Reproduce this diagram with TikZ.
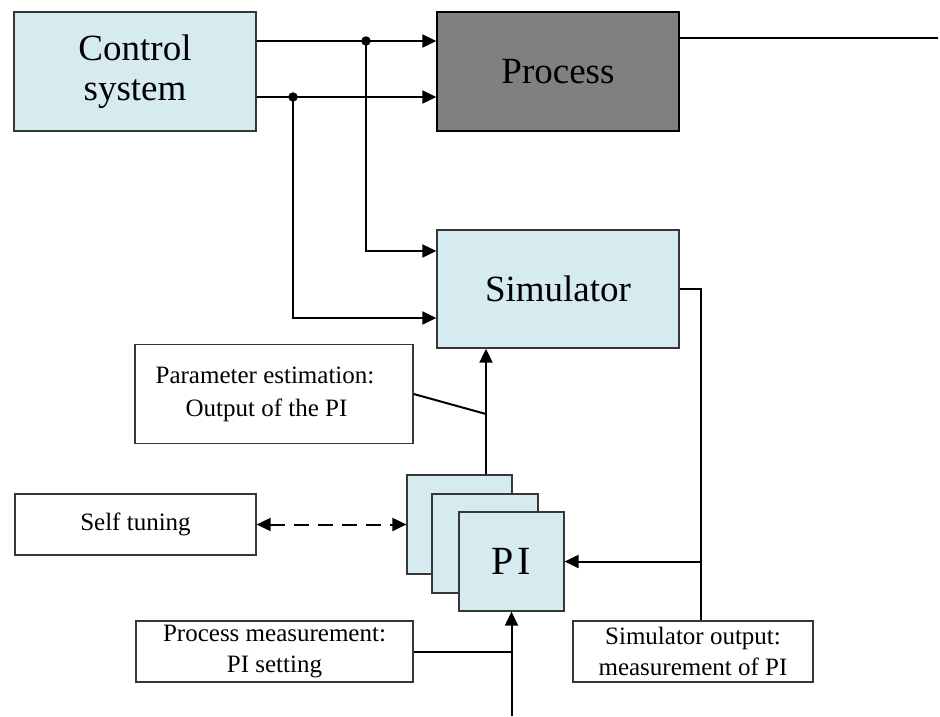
\documentclass[tikz,border=0pt]{standalone}
\usepackage{fontspec}
\setmainfont{Liberation Serif}
\usetikzlibrary{arrows.meta}
\definecolor{boxblue}{RGB}{213,235,240}
\definecolor{procgray}{RGB}{128,128,128}
\definecolor{edgegray}{RGB}{55,55,55}

\begin{document}
\begin{tikzpicture}[x=1pt,y=-1pt,
  blk/.style={draw=edgegray, line width=1.3pt, inner sep=0pt, align=center},
  big/.style={font=\fontsize{37}{40}\selectfont},
  small/.style={font=\fontsize{25}{31}\selectfont},
  wire/.style={line width=2pt, draw=black},
  tip/.style={-{Triangle[length=14pt,width=13pt]}},
  arr/.style={wire, tip},
  dot/.style={circle, fill=black, inner sep=0pt, minimum size=9.5pt}
]
\useasboundingbox (0,0) rectangle (940,716);

% main blocks
\node[blk, fill=boxblue, big, minimum width=242pt, minimum height=119pt] (ctrl) at (135,71.5) {Control\\system};
\node[blk, draw=black, fill=procgray, big, minimum width=242pt, minimum height=119pt] (proc) at (558,71.5) {Process};
\node[blk, fill=boxblue, big, minimum width=242pt, minimum height=118pt] (sim) at (558,289) {Simulator};

% stacked PI controllers, back to front
\node[blk, fill=boxblue, line width=1.2pt, minimum width=105pt, minimum height=99pt] (pi1) at (459.5,524.5) {};
\node[blk, fill=boxblue, line width=1.2pt, minimum width=106pt, minimum height=99pt] (pi2) at (485,543.5) {};
\node[blk, fill=boxblue, line width=1.2pt, minimum width=105pt, minimum height=99pt,
      font=\fontsize{40}{44}\selectfont] (pi3) at (511.5,561.5) {P\kern4pt I};

% annotation boxes
\node[blk, small, font=\fontsize{25}{33}\selectfont, align=left, minimum width=278pt, minimum height=99pt] (param) at (274,394)
  {Parameter estimation:\hspace*{18pt}\\\hspace*{30pt}Output of the PI};
\node[blk, small, minimum width=241pt, minimum height=61pt] (self) at (135.5,524.5) {Self tuning};
\node[blk, small, minimum width=277pt, minimum height=61pt] (pmeas) at (274.5,651.5) {Process measurement:\\PI setting};
\node[blk, small, minimum width=240pt, minimum height=61pt] (smeas) at (693,651.5) {Simulator output:\\measurement of PI};

% branch points
\coordinate (j1) at (366,41);
\coordinate (j2) at (293,97);
\coordinate (out) at (938,38);
\coordinate (sx) at (701,289);
\coordinate (ux) at (486,0);
\coordinate (pj) at (486,414);
\coordinate (bot) at (511.5,716);

% control signals to process and simulator
\draw[arr] (ctrl.east |- j1) -- (proc.west |- j1);
\draw[arr] (ctrl.east |- j2) -- (proc.west |- j2);
\draw[arr] (j1) |- ([yshift=38pt]sim.west);
\draw[arr] (j2) |- ([yshift=-29pt]sim.west);
\node[dot] (d1) at (j1) {};
\node[dot] (d2) at (j2) {};

% process output
\draw[wire] (proc.east |- out) -- (out);

% simulator output fed back to PI
\draw[wire] (sim.east |- sx) -- (sx) -- (sx |- smeas.north);
\draw[arr] (sx |- pi3.east) -- (pi3.east);

% PI output to simulator
\draw[arr] (pi1.north -| ux) -- (sim.south -| ux);
\draw[wire] (param.east) -- (pj);

% self tuning link
\draw[wire, dash pattern=on 15pt off 9pt, {Triangle[length=14pt,width=13pt]}-{Triangle[length=14pt,width=13pt]}] (self.east) -- (pi1.west);

% process measurement into PI
\draw[arr] (bot) -- (pi3.south);
\draw[wire] (pmeas.east) -- (pmeas.east -| pi3.south);
\end{tikzpicture}
\end{document}
